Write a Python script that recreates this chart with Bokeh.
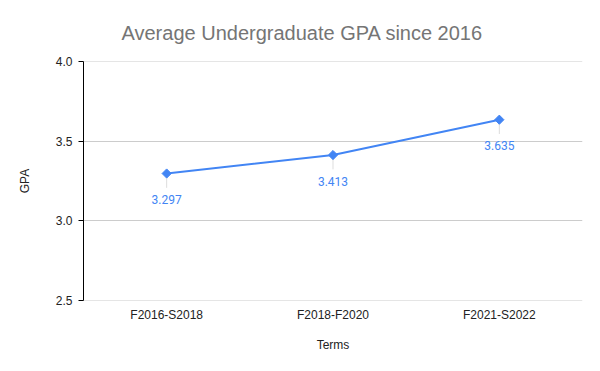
import math
from bokeh.plotting import figure
from bokeh.models import FactorRange, Range1d, ColumnDataSource, Title
from bokeh.embed import file_html
from bokeh.resources import INLINE
from bokeh.core.properties import value

terms = ["F2016-S2018", "F2018-F2020", "F2021-S2022"]
gpa = [3.297, 3.413, 3.635]
gpa_labels = ["3.297", "3.413", "3.635"]
y_ticks = [2.5, 3.0, 3.5, 4.0]

BLUE = "#4285F4"
FONT = "Liberation Sans"

p = figure(x_range=FactorRange(*terms, range_padding=0), y_range=Range1d(2.4995, 4.0005),
           width=592, height=363, output_backend="svg", toolbar_location=None,
           min_border_left=83, min_border_right=10, min_border_top=61, min_border_bottom=63)
p.outline_line_color = None

p.title = Title(text="Average Undergraduate GPA since 2016", align="left", offset=38,
                standoff=36, text_color="#757575", text_font=FONT, text_font_size="20px",
                text_font_style="normal")

src = ColumnDataSource(dict(x=terms, y=gpa, lab=gpa_labels,
                            y0=[g - 0.02 for g in gpa], y1=[g - 0.09 for g in gpa]))

p.segment(x0="x", x1="x", y0="y0", y1="y1", source=src, line_color="#dddddd", line_width=1)
p.line("x", "y", source=src, line_color=BLUE, line_width=2)
p.scatter("x", "y", source=src, marker="square", angle=math.pi / 4, size=6.5,
          fill_color=BLUE, line_color=BLUE)
p.text("x", "y", text="lab", source=src, text_color=BLUE, text_font=value("Roboto"),
       text_font_size="12px", text_align="center", text_baseline="middle", y_offset=26)

p.yaxis.ticker = y_ticks
p.yaxis.major_label_overrides = {2.5: "2.5", 3.0: "3.0", 3.5: "3.5", 4.0: "4.0"}
p.yaxis.axis_line_color = "black"
p.yaxis.axis_line_width = 1
p.yaxis.major_tick_line_color = "black"
p.yaxis.major_tick_out = 5
p.yaxis.major_tick_in = 0
p.yaxis.minor_tick_line_color = None
p.yaxis.axis_label = "GPA"

p.xaxis.axis_line_color = None
p.xaxis.major_tick_line_color = None
p.xaxis.major_tick_out = 0
p.xaxis.major_tick_in = 0
p.xaxis.minor_tick_line_color = None
p.xaxis.axis_label = "Terms"

for ax in (p.xaxis, p.yaxis):
    ax.major_label_text_font = FONT
    ax.major_label_text_font_size = "12px"
    ax.major_label_text_color = "#222222"
    ax.axis_label_text_font = FONT
    ax.axis_label_text_font_size = "12px"
    ax.axis_label_text_font_style = "normal"
    ax.axis_label_text_color = "#222222"

p.xaxis.major_label_standoff = 7
p.xaxis.axis_label_standoff = 13
p.yaxis.major_label_standoff = 6
p.yaxis.axis_label_standoff = 21
p.xgrid.grid_line_color = None
p.ygrid.grid_line_color = "#cccccc"

open("out.html", "w").write(file_html(p, INLINE))
